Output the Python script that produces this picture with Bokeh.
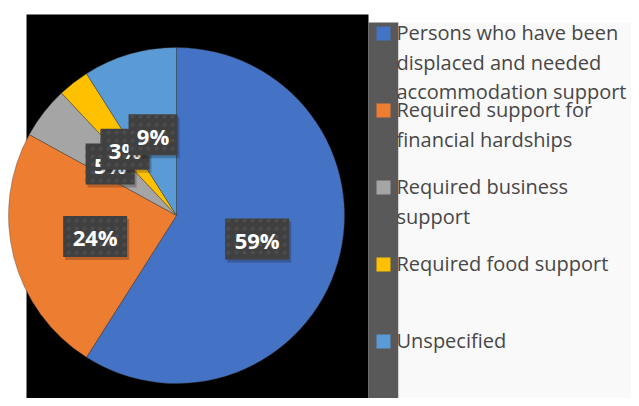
import math
from bokeh.plotting import figure
from bokeh.models import Range1d, ColumnDataSource
from bokeh.core.properties import value
from bokeh.embed import file_html
from bokeh.resources import INLINE

# ---- data ----
categories = [
    "Persons who have been\ndisplaced and needed\naccommodation support",
    "Required support for\nfinancial hardships",
    "Required business\nsupport",
    "Required food support",
    "Unspecified",
]
values = [59, 24, 5, 3, 9]
colors = ["#4472C4", "#ED7D31", "#A5A5A5", "#FFC000", "#5B9BD5"]

# ---- canvas (coordinates are page pixels; y measured upward from page bottom) ----
W, H = 631, 398
PAGE_H = 406
p = figure(width=W, height=H, output_backend="svg", toolbar_location=None,
           x_range=Range1d(0, 631), y_range=Range1d(PAGE_H - 398, PAGE_H),
           x_axis_type=None, y_axis_type=None, min_border=0)
p.outline_line_color = None
p.background_fill_color = "white"
p.border_fill_color = "white"
p.grid.visible = False


def Y(sy):
    return PAGE_H - sy


# chart area background (black) and legend panel
p.quad(left=26, right=368, top=Y(14), bottom=Y(406), fill_color="black", line_color=None)
p.quad(left=368, right=398, top=Y(22), bottom=Y(406), fill_color="#595959", line_color=None)
p.quad(left=398, right=639, top=Y(22), bottom=Y(406), fill_color="#F9F9F9", line_color=None)

# ---- pie ----
cx, cy, R = 176, Y(215), 168
total = float(sum(values))
starts, ends, mids = [], [], []
cum = 0.0
for v in values:
    a0 = cum / total * 2 * math.pi
    cum += v
    a1 = cum / total * 2 * math.pi
    starts.append(math.pi / 2 - a0)
    ends.append(math.pi / 2 - a1)
    mids.append(math.pi / 2 - (a0 + a1) / 2)

src = ColumnDataSource(dict(start=starts, end=ends, color=colors))
p.wedge(x=cx, y=cy, radius=R, start_angle="start", end_angle="end",
        direction="clock", fill_color="color", line_color="#3a3a3a",
        line_width=0.6, line_alpha=0.6, source=src)

# ---- data labels ----
lab_x = [cx + 0.5 * R * math.cos(m) for m in mids]
lab_y = [cy + 0.5 * R * math.sin(m) for m in mids]
lab_txt = [f"{v}%" for v in values]
lab_w = [34 + 15 * len(str(v)) for v in values]
for i in range(len(values)):
    p.rect(x=lab_x[i] + 2, y=lab_y[i] - 3, width=lab_w[i], height=41,
           width_units="screen", height_units="screen",
           fill_color="#000000", fill_alpha=0.22, line_color=None)
    p.rect(x=lab_x[i], y=lab_y[i], width=lab_w[i], height=41,
           width_units="screen", height_units="screen",
           fill_color="#404040", line_color=None,
           hatch_pattern="dot", hatch_color="#4c4c4c", hatch_scale=8, hatch_weight=1.5)
    p.text(x=lab_x[i], y=lab_y[i] - 1, text=[lab_txt[i]],
           text_font=value("Open Sans"), text_font_style="bold",
           text_font_size="22px", text_color="white",
           text_align="center", text_baseline="middle")

# ---- legend ----
leg_top = 33
leg_step = 77
line_h = 29.5
for i, (cat, col) in enumerate(zip(categories, colors)):
    yc = leg_top + i * leg_step
    p.rect(x=383, y=Y(yc), width=14, height=14, width_units="screen",
           height_units="screen", fill_color=col, line_color=None)
    for j, line in enumerate(cat.split("\n")):
        p.text(x=396, y=Y(yc - 1 + j * line_h), text=[line],
               text_font=value("Open Sans"), text_font_size="20px",
               text_color="#474747", text_align="left",
               text_baseline="alphabetic")

open("out.html", "w").write(file_html(p, INLINE))
